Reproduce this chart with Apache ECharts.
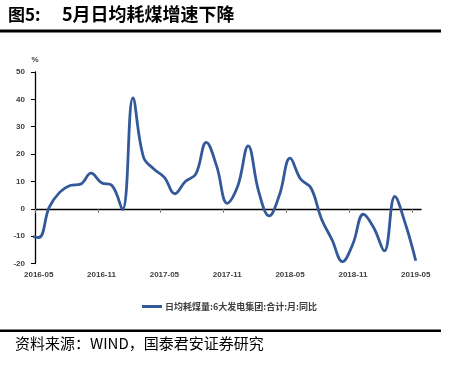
<!DOCTYPE html>
<html>
<head>
<meta charset="utf-8">
<script src="https://cdn.jsdelivr.net/npm/echarts@6/dist/echarts.min.js"></script>
<style>
html,body{margin:0;padding:0;background:#fff;}
#chart{width:452px;height:367px;}
</style>
</head>
<body>
<div id="chart"></div>
<script>
// Months (2016-04 .. 2019-05)
const months = [
  '2016-04','2016-05','2016-06','2016-07','2016-08','2016-09','2016-10','2016-11','2016-12',
  '2017-01','2017-02','2017-03','2017-04','2017-05','2017-06','2017-07','2017-08','2017-09','2017-10','2017-11','2017-12',
  '2018-01','2018-02','2018-03','2018-04','2018-05','2018-06','2018-07','2018-08','2018-09','2018-10','2018-11','2018-12',
  '2019-01','2019-02','2019-03','2019-04','2019-05'
];
// 日均耗煤量:6大发电集团:合计:月:同比 (%)
const coalYoY = [
  -9.8, -10.5, 0.5, 6.0, 8.5, 9.0, 13.0, 9.5, 8.5,
  -0.3, 40.5, 19.0, 14.5, 11.5, 5.5, 10.0, 12.7, 24.3, 15.5, 2.0, 8.2,
  23.0, 6.4, -2.6, 5.2, 18.5, 10.9, 7.6, -3.7, -11.3, -19.3, -12.8, -2.0,
  -7.0, -15.4, 4.5, -5.4, -19.0
];
const xLabels = ['2016-05','2016-11','2017-05','2017-11','2018-05','2018-11','2019-05'];
const yTicks = [-20, -10, 0, 10, 20, 30, 40, 50];
const seriesName = '日均耗煤量:6大发电集团:合计:月:同比';
const titleLeft = '图5:';
const titleRight = '5月日均耗煤增速下降';
const sourceText = '资料来源：WIND，国泰君安证券研究';

const labelIdx = xLabels.map(m => months.indexOf(m));
const tickIdx = labelIdx.map(i => i - 0.35);
const lineData = coalYoY.map((v, i) => [i, v]);

const chart = echarts.init(document.getElementById('chart'), null, {renderer: 'canvas'});
const lbl = {fontFamily: '"Liberation Sans", Arial, sans-serif', fontSize: 8, fontWeight: 'bold', color: '#404040'};

chart.setOption({
  animation: false,
  backgroundColor: '#fff',
  grid: {left: 35, right: 31, top: 72, bottom: 103.5, containLabel: false},
  xAxis: [{
    type: 'value', min: tickIdx[0], max: 37.5, position: 'bottom',
    axisLine: {show: false, onZero: false},
    axisTick: {show: false},
    splitLine: {show: false},
    axisLabel: Object.assign({
      customValues: labelIdx, margin: 7, showMinLabel: true, showMaxLabel: true,
      formatter: v => months[Math.round(v)] || ''
    }, lbl)
  }, {
    type: 'value', min: tickIdx[0], max: 37.5, position: 'bottom',
    axisLine: {show: true, onZero: true, onZeroAxisIndex: 0, lineStyle: {color: '#000', width: 1.3}},
    axisTick: {show: true, customValues: tickIdx, length: 4, inside: false, lineStyle: {color: '#777', width: 1}},
    axisLabel: {show: false},
    splitLine: {show: false}
  }],
  yAxis: {
    type: 'value', min: yTicks[0], max: yTicks[yTicks.length - 1], interval: 10,
    name: '%', nameLocation: 'end', nameGap: 8,
    nameTextStyle: Object.assign({}, lbl, {align: 'center'}),
    axisLine: {show: true, onZero: false, lineStyle: {color: '#000', width: 1.3}},
    axisTick: {show: true, length: 4, lineStyle: {color: '#000', width: 1}},
    splitLine: {show: false},
    axisLabel: Object.assign({margin: 10}, lbl)
  },
  legend: {
    left: 137, top: 297,
    itemWidth: 20, itemHeight: 3, itemGap: 10,
    icon: 'rect',
    textStyle: {fontFamily: '"Noto Sans CJK SC", sans-serif', fontSize: 9, fontWeight: 'bold', color: '#404040', padding: [0,0,0,-2]},
    data: [{name: seriesName, icon: 'rect'}]
  },
  series: [{
    name: seriesName,
    type: 'line',
    xAxisIndex: 0,
    data: lineData,
    smooth: 0.4,
    symbol: 'none',
    clip: false,
    lineStyle: {color: '#34599A', width: 2.8},
    itemStyle: {color: '#34599A'}
  }],
  graphic: [
    {type: 'text', left: 8, top: 6, style: {text: titleLeft, font: 'bold 17px "Noto Sans CJK SC", sans-serif', fill: '#000'}},
    {type: 'text', left: 62, top: 5, style: {text: titleRight, font: 'bold 18px "Noto Sans CJK SC", sans-serif', fill: '#000'}},
    {type: 'rect', shape: {x: 0, y: 29.5, width: 441, height: 3}, style: {fill: '#000'}},
    {type: 'rect', shape: {x: 0, y: 329.5, width: 441, height: 2.5}, style: {fill: '#000'}},
    {type: 'text', left: 15, top: 336, style: {text: sourceText, font: '15px "Noto Sans CJK SC", sans-serif', fill: '#000'}}
  ]
});
</script>
</body>
</html>
